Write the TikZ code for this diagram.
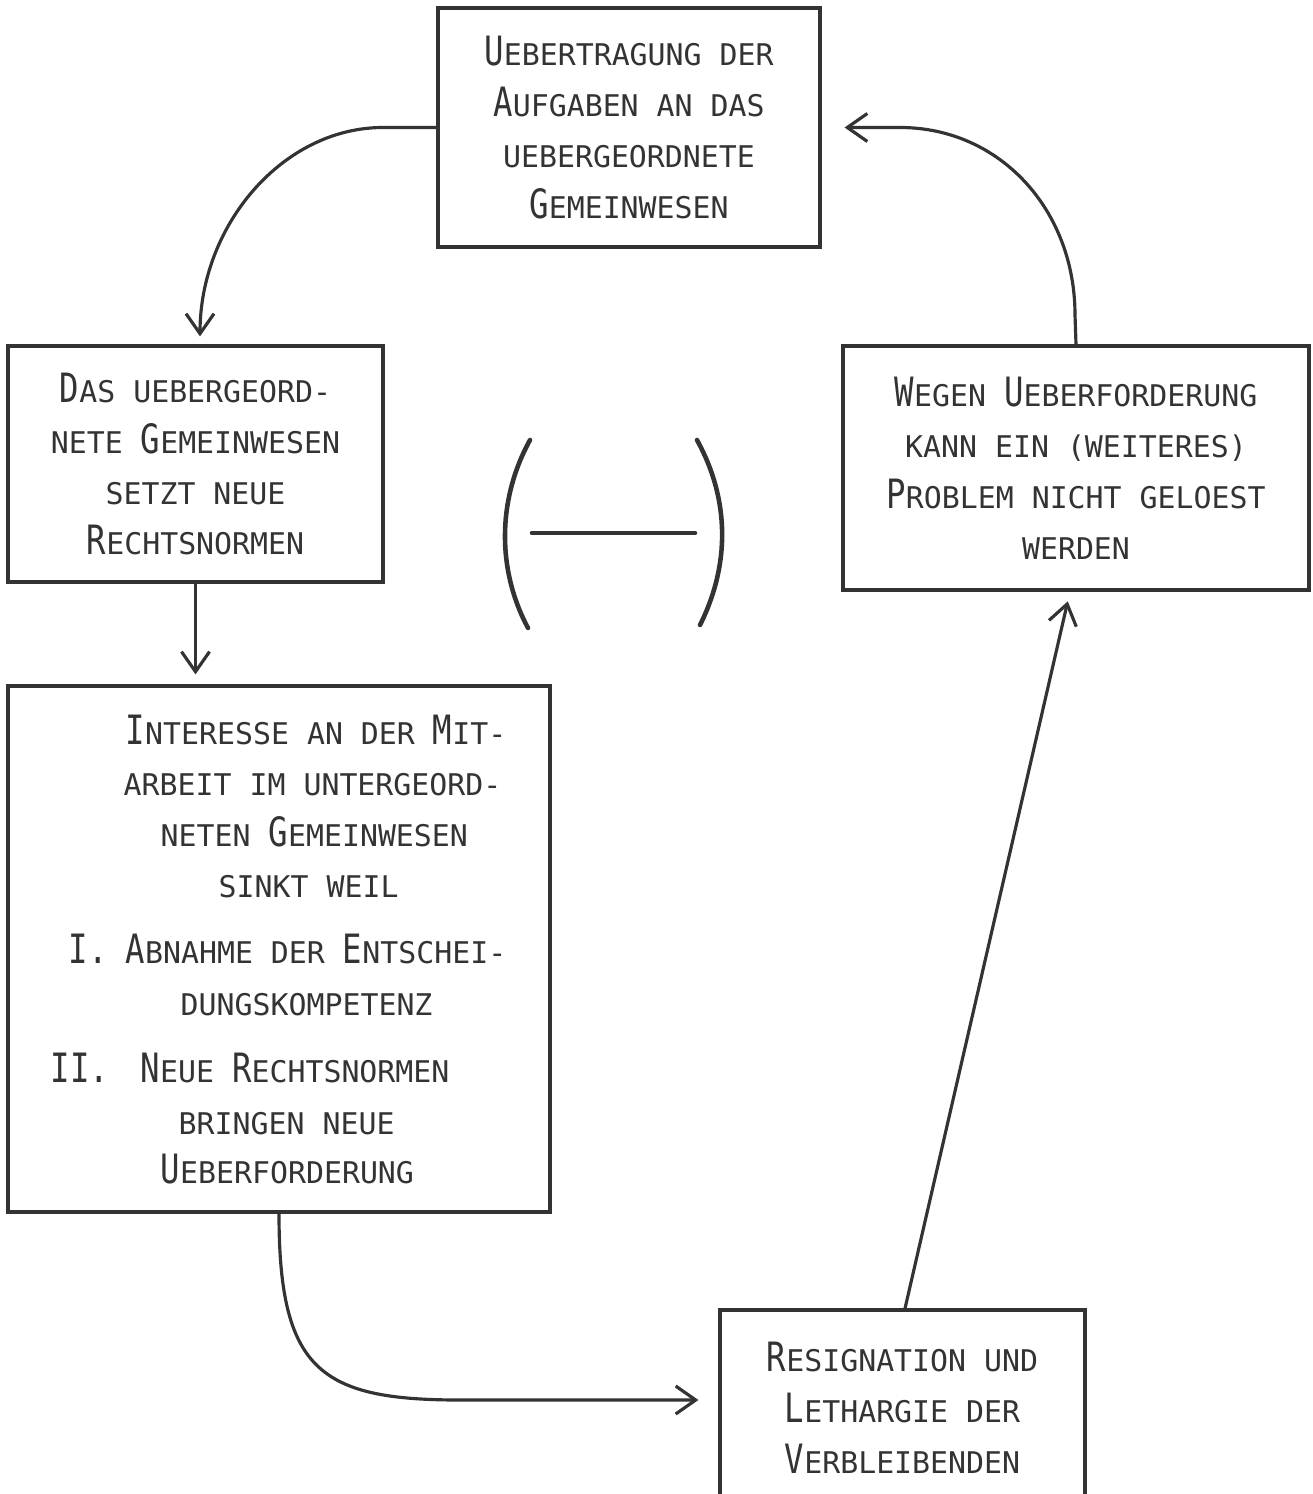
\documentclass[tikz,border=0pt]{standalone}
\usepackage{fontspec}
\usepackage{tikz}
\usetikzlibrary{arrows.meta,positioning,calc}
\newfontfamily\lettering{DejaVu Sans Mono}
\newcommand{\bc}[1]{\scalebox{0.8}[1]{\fontsize{11.5}{14.5}\selectfont #1}}
\definecolor{ink}{gray}{0.2}

\tikzset{
  box/.style={draw=ink, line width=0.9pt, align=center, inner sep=0pt, text=ink,
    font=\lettering\fontsize{8.5}{14.5}\selectfont},
  txtline/.style={anchor=base west, inner sep=0pt, text=ink,
    font=\lettering\fontsize{8.5}{14.5}\selectfont},
  flow/.style={draw=ink, line width=0.9pt, -{Straight Barb[length=2mm,width=2.8mm]}},
  paren/.style={draw=ink, line width=1.3pt, line cap=round}
}

\begin{document}
\begin{tikzpicture}[x=0.1mm, y=-0.1mm]
    \clip (0,0) rectangle (1312,1494);

    % Boxes
    \node[box, minimum width=38.2mm, minimum height=23.9mm] (top) at (629,127.5)
      {\bc{U}EBERTRAGUNG DER\\ \bc{A}UFGABEN AN DAS\\ UEBERGEORDNETE\\ \bc{G}EMEINWESEN};
    \node[box, minimum width=37.5mm, minimum height=23.6mm] (left) at (195.5,464)
      {\bc{D}AS UEBERGEORD-\\ NETE \bc{G}EMEINWESEN\\ SETZT NEUE\\ \bc{R}ECHTSNORMEN};
    \node[box, minimum width=46.6mm, minimum height=24.4mm] (right) at (1076,468)
      {\bc{W}EGEN \bc{U}EBERFORDERUNG\\ KANN EIN (WEITERES)\\ \bc{P}ROBLEM NICHT GELOEST\\ WERDEN};
    \node[box, minimum width=54.2mm, minimum height=52.6mm] (big) at (279,949) {};
    \node[box, minimum width=36.5mm, minimum height=19.6mm] (bot) at (902.5,1408)
      {\bc{R}ESIGNATION UND\\ \bc{L}ETHARGIE DER\\ \bc{V}ERBLEIBENDEN};

    % Text of the big box
    \foreach \x/\y/\txt [count=\i] in {
        125/731/{\bc{I}NTERESSE AN DER \bc{M}IT-},
        123/782/{ARBEIT IM UNTERGEORD-},
        160/833/{NETEN \bc{G}EMEINWESEN},
        218/884/{SINKT WEIL},
        68/950/{\bc{I.} \bc{A}BNAHME DER \bc{E}NTSCHEI-},
        180/1002/{DUNGSKOMPETENZ},
        50/1069/{\bc{II.}},
        140/1069/{\bc{N}EUE \bc{R}ECHTSNORMEN},
        178/1121/{BRINGEN NEUE},
        160/1170/{\bc{U}EBERFORDERUNG}}
      \node[txtline] (b\i) at (\x,\y+13) {\txt};

    % Connectors
    \draw[flow, shorten >=0.8mm] (top.west) -- (383,127.5)
      .. controls (283,127.5) and (200,225) .. ([xshift=0.45mm]left.north);
    \draw[flow, shorten >=2.3mm] (right.north) -- (1075,315)
      .. controls (1075,210) and (1000,127.5) .. (900,127.5) -- (top.east);
    \draw[flow, shorten >=1mm] (left.south) -- (left.south |- big.north);
    \draw[flow, shorten >=2mm] (big.south)
      .. controls (279,1370) and (320,1400) .. (460,1400) -- ([yshift=0.8mm]bot.west);
    \draw[flow, shorten >=1mm] ([xshift=0.25mm]bot.north) -- ([xshift=-0.6mm]right.south);

    % Bracket sign
    \draw[paren] (530,440) .. controls (497,500) and (497,570) .. (528,628);
    \draw[paren] (697,440) .. controls (730,500) and (730,565) .. (700,625);
    \draw[paren] (532,533) -- (695,533);
\end{tikzpicture}
\end{document}
